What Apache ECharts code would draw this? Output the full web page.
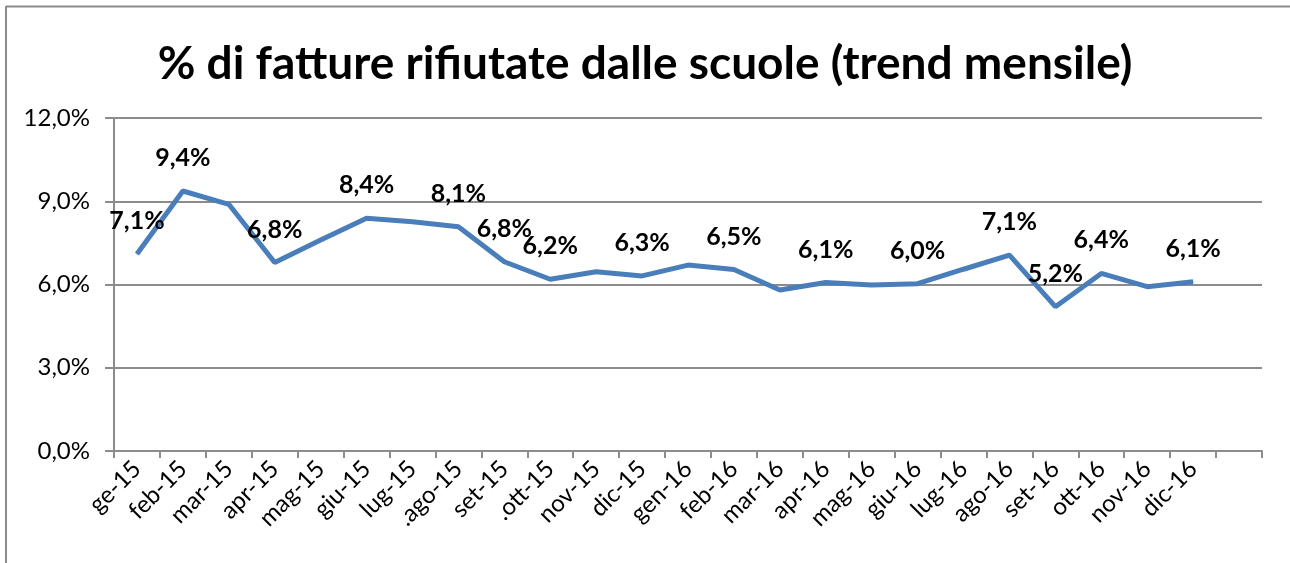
<!DOCTYPE html>
<html>
<head>
    <meta charset="utf-8">
    <title>% di fatture rifiutate dalle scuole</title>
    <script src="https://cdn.jsdelivr.net/npm/echarts@6/dist/echarts.min.js"></script>
</head>
<style>
    body { margin: 0; background: #fff; }
</style>
<body>
    <div id="main" style="width: 1290px;height:563px;"></div>
    <script type="text/javascript">
        // mesi (l'ultima categoria e' vuota, come nel grafico originale)
        var mesi = ['ge-15', 'feb-15', 'mar-15', 'apr-15', 'mag-15', 'giu-15', 'lug-15', '.ago-15',
            'set-15', '.ott-15', 'nov-15', 'dic-15', 'gen-16', 'feb-16', 'mar-16', 'apr-16',
            'mag-16', 'giu-16', 'lug-16', 'ago-16', 'set-16', 'ott-16', 'nov-16', 'dic-16', ''];
        // % fatture rifiutate
        var rifiutate = [7.1, 9.37, 8.89, 6.79, 7.6, 8.39, 8.26, 8.08,
            6.82, 6.19, 6.46, 6.31, 6.7, 6.54, 5.8, 6.07,
            5.98, 6.03, 6.55, 7.06, 5.2, 6.4, 5.92, 6.1];
        // punti con etichetta
        var conEtichetta = [0, 1, 3, 5, 7, 8, 9, 11, 13, 15, 17, 19, 20, 21, 23];
        var tickY = [0, 3, 6, 9, 12];

        var myChart = echarts.init(document.getElementById('main'));
        var fmt = function (v) { return v.toFixed(1).replace('.', ',') + '%'; };

        var option = {
            animation: false,
            title: {
                text: '% di fatture rifiutate dalle scuole (trend mensile)',
                left: 'center',
                top: 36,
                textStyle: { fontFamily: 'Lato', fontWeight: 'bold', fontSize: 46, color: '#000' }
            },
            graphic: [
                { type: 'line', shape: { x1: 6, y1: 6.5, x2: 1290, y2: 6.5 }, style: { stroke: '#8c8c8c', lineWidth: 2 } },
                { type: 'line', shape: { x1: 6, y1: 6, x2: 6, y2: 563 }, style: { stroke: '#8c8c8c', lineWidth: 2 } }
            ],
            grid: { left: 114, right: 28, top: 118, bottom: 112 },
            xAxis: {
                type: 'category',
                data: mesi,
                boundaryGap: true,
                axisLine: { lineStyle: { color: '#8c8c8c', width: 2 } },
                axisTick: { show: true, length: 7, lineStyle: { color: '#8c8c8c', width: 2 } },
                axisLabel: {
                    interval: 0, rotate: 45, margin: 14,
                    fontFamily: 'Lato', fontSize: 24, color: '#000'
                }
            },
            yAxis: {
                type: 'value',
                min: tickY[0], max: tickY[tickY.length - 1], interval: 3,
                axisLine: { show: true, lineStyle: { color: '#8c8c8c', width: 2 } },
                axisTick: { show: true, length: 9, lineStyle: { color: '#8c8c8c', width: 2 } },
                splitLine: { lineStyle: { color: '#8c8c8c', width: 2 } },
                axisLabel: {
                    margin: 24, fontFamily: 'Lato', fontSize: 24, color: '#000',
                    formatter: function (v) { return fmt(v); }
                }
            },
            series: [{
                type: 'line',
                data: rifiutate,
                symbol: 'circle',
                symbolSize: 1,
                showSymbol: true,
                itemStyle: { color: '#4a7ebb' },
                lineStyle: { color: '#4a7ebb', width: 5 },
                label: {
                    show: true,
                    position: 'top',
                    distance: 20,
                    fontFamily: 'Lato', fontWeight: 'bold', fontSize: 25, color: '#000',
                    formatter: function (p) {
                        return conEtichetta.indexOf(p.dataIndex) >= 0 ? fmt(p.value) : '';
                    }
                }
            }]
        };
        myChart.setOption(option);
    </script>
</body>
</html>
